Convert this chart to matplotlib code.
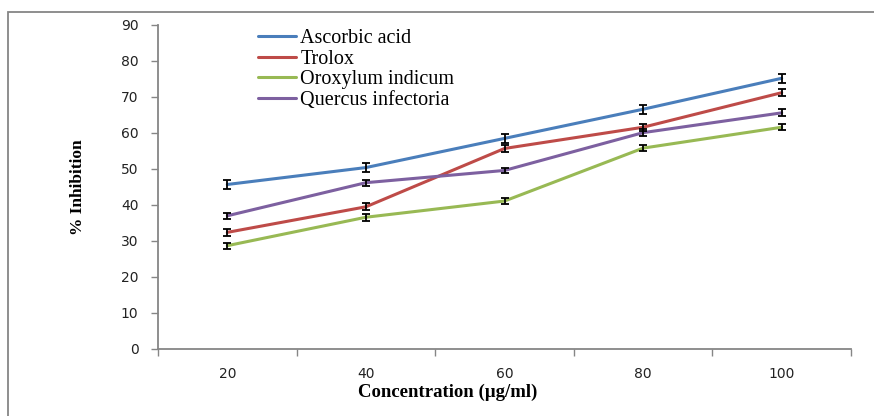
import matplotlib.pyplot as plt
from matplotlib.patches import Rectangle

# data
concentrations = ['20', '40', '60', '80', '100']
ascorbic = [45.7, 50.4, 58.5, 66.6, 75.2]
ascorbic_err = [1.2, 1.3, 1.3, 1.2, 1.3]
trolox = [32.4, 39.5, 55.7, 61.6, 71.2]
trolox_err = [0.9, 1.0, 1.1, 1.0, 1.0]
oroxylum = [28.7, 36.6, 41.1, 55.8, 61.6]
oroxylum_err = [0.8, 1.0, 0.8, 0.8, 0.8]
quercus = [37.0, 46.2, 49.6, 60.1, 65.6]
quercus_err = [0.8, 0.8, 0.7, 0.9, 1.0]

series_names = ['Ascorbic acid', 'Trolox', 'Oroxylum indicum', 'Quercus infectoria']
colors = ['#4A7EBB', '#BE4B48', '#98B954', '#7D60A0']

fig = plt.figure(figsize=(8.74, 4.16), dpi=100)
ax = fig.add_axes([158/874, 1 - 349/416, (851 - 158)/874, (349 - 25)/416])

x = list(range(len(concentrations)))
all_vals = [ascorbic, trolox, oroxylum, quercus]
all_errs = [ascorbic_err, trolox_err, oroxylum_err, quercus_err]

for vals, name, c in zip(all_vals, series_names, colors):
    ax.plot(x, vals, color=c, lw=2.2, label=name, solid_capstyle='round')

for vals, errs in zip(all_vals, all_errs):
    ax.errorbar(x, vals, yerr=errs, fmt='none', ecolor='black',
                elinewidth=1.3, capsize=3, capthick=1.3, zorder=5)

ax.set_xlim(-0.5, 4.5)
ax.set_ylim(0, 90)
ax.set_yticks(range(0, 91, 10))

# category boundaries as major ticks, labels at category centres
ax.set_xticks([i - 0.5 for i in range(len(concentrations) + 1)])
ax.set_xticklabels([])
ax.set_xticks(x, minor=True)
ax.set_xticklabels(concentrations, minor=True)

ax.tick_params(axis='x', which='major', length=5, color='#868686', width=1)
ax.tick_params(axis='x', which='minor', length=0, pad=13, labelsize=10, labelcolor='#222222')
ax.tick_params(axis='y', length=5, color='#868686', width=1, pad=9,
               labelsize=10, labelcolor='#222222')

for s in ['top', 'right']:
    ax.spines[s].set_visible(False)
for s in ['left', 'bottom']:
    ax.spines[s].set_color('#868686')
    ax.spines[s].set_linewidth(1.3)

fig.text(448/874, 1 - 392/416, 'Concentration (\u00b5g/ml)', ha='center', va='center',
         family='Liberation Serif', fontweight='bold', fontsize=13.5)
fig.text(78/874, 1 - 187/416, '% Inhibition', ha='center', va='center', rotation=90,
         family='Liberation Serif', fontweight='bold', fontsize=12.5)

leg = ax.legend(loc='upper left', bbox_to_anchor=(258/874, 1 - 29/416),
                bbox_transform=fig.transFigure, frameon=False,
                prop={'family': 'Liberation Serif', 'size': 14.5},
                handlelength=1.9, handletextpad=0.2, labelspacing=0.07,
                borderpad=0, borderaxespad=0)

# outer chart border (left and top visible)
fig.add_artist(Rectangle((8/874, -0.1), 1.2, 1.1 - 12/416,
                         transform=fig.transFigure, fill=False,
                         edgecolor='#868686', lw=1.3))

fig.savefig('out.png', dpi=100)
